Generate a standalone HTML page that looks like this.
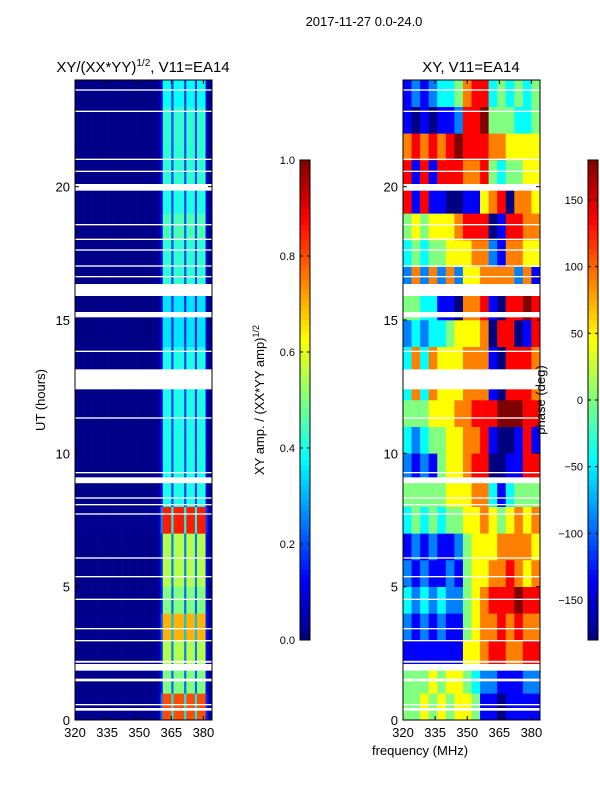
<!DOCTYPE html>
<html><head><meta charset="utf-8"><style>
body{margin:0;background:#fff;font-family:"Liberation Sans",sans-serif;}
svg text{font-family:"Liberation Sans",sans-serif;}
</style></head><body>
<svg id="fig" width="600" height="800" xmlns="http://www.w3.org/2000/svg">
<rect width="600" height="800" fill="#fff"/>
<text x="364" y="26" font-size="13" text-anchor="middle">2017-11-27 0.0-24.0</text>
<text x="143" y="72" font-size="15" text-anchor="middle">XY/(XX*YY)<tspan font-size="10" dy="-6">1/2</tspan><tspan dy="6">, V11=EA14</tspan></text>
<text x="471" y="72" font-size="15" text-anchor="middle">XY, V11=EA14</text>
<g id="amp"></g>
<g id="phs"></g>
<g id="gaps"></g>
<g id="axes"></g>
<text transform="translate(45,400) rotate(-90)" font-size="13" text-anchor="middle">UT (hours)</text>
<text x="420" y="755" font-size="13" text-anchor="middle">frequency (MHz)</text>
<text transform="translate(264,400) rotate(-90)" font-size="13" text-anchor="middle">XY amp. / (XX*YY amp)<tspan font-size="9" dy="-5">1/2</tspan></text>
<text transform="translate(545,400) rotate(-90)" font-size="13" text-anchor="middle">phase (deg)</text>
</svg>
<script>
const ampBand=[0.8,0.5,0.55,0.7,0.5,0.55,0.55,0.85,0.4,0.4,0.4,0.4,0.4,0.4,0.35,0.35,0.42,0.42,0.45,0.4,0.42,0.42,0.42,0.38];
const ampChanProfile=[0.02,0.02,0.02,0.02,0.02,0.02,0.02,0.02,0.02,0.02,0.02,0.02,0.02,0.02,0.02,0.02,0.02,0.02,0.02,0.02,0.02,0.02,0.02,0.02,0.02,0.02,0.02,0.02,0.02,0.02,0.02,0.02,0.02,0.02,0.02,0.02,0.02,0.02,0.04,0.08,0.3,1,1,1,1,0.45,1,1,1,1,1,0.45,1,1,1,1,0.45,1,1,1,1,0.2,0.08,0.05];
const phaseRows=["4454545541101111","4445455432211122","1111111556776677","2121211456676766","3232322456777877","2121121455667656","1212112455566665","3434344556545656","4444455566313444","2121455677001177","3234455667100171","4445556677788877","3636555666107776","3636555666107776","2323345556077017","4433110667107787","2626262556666261","3434455566216655","4545556777017766","7171100115670665","7171777667434455","6767678777665555","1010112778444334","1212334677343434"];
const gapHours=[[0.35,0.45],[0.55,0.6],[1.45,1.55],[1.85,2.1],[2.15,2.22],[2.95,3.0],[3.4,3.45],[4.5,4.55],[5.35,5.4],[6.05,6.1],[7.7,7.75],[8.05,8.1],[8.3,8.35],[8.88,9.1],[9.25,9.3],[11.3,11.35],[12.4,13.15],[13.8,13.85],[15.1,15.3],[15.9,16.35],[16.6,16.65],[17.0,17.05],[17.6,17.65],[18.0,18.05],[18.55,18.6],[19.85,20.1],[20.55,20.6],[21.0,21.05],[22.8,22.85],[23.6,23.65]];
const xTicks=[320,335,350,365,380];
const yTicks=[0,5,10,15,20];
const ampCbTicks=[0.0,0.2,0.4,0.6,0.8,1.0];
const phaseCbTicks=[-150,-100,-50,0,50,100,150];

const NS="http://www.w3.org/2000/svg";
const FMIN=320,FMAX=384,TMIN=0,TMAX=24,Y0=720,Y1=80;
const panels=[{x0:75,x1:212},{x0:403,x1:540}];
function xs(p,f){return p.x0+(f-FMIN)/(FMAX-FMIN)*(p.x1-p.x0);}
function ys(h){return Y0+(h-TMIN)/(TMAX-TMIN)*(Y1-Y0);}
function jet(v){v=Math.max(0,Math.min(1,v));
 const c=x=>Math.round(255*Math.max(0,Math.min(1,1.5-Math.abs(4*v-x))));
 return `rgb(${c(3)},${c(2)},${c(1)})`;}
function el(tag,attrs,parent){const e=document.createElementNS(NS,tag);for(const k in attrs)e.setAttribute(k,attrs[k]);parent.appendChild(e);return e;}
const fig=document.getElementById('fig');
const amp=document.getElementById('amp');
const nc=ampChanProfile.length,df=(FMAX-FMIN)/nc;
ampBand.forEach((b,r)=>{ampChanProfile.forEach((p,c)=>{
 const x=xs(panels[0],FMIN+c*df),x2=xs(panels[0],FMIN+(c+1)*df);
 const y=ys(r+1),y2=ys(r);
 const rc=el('rect',{x:x,y:y,width:x2-x+0.3,height:y2-y+0.3,fill:jet(p*b)},amp);
 
 
});});
const phs=document.getElementById('phs');
phaseRows.forEach((row,r)=>{const n=row.length,w=(FMAX-FMIN)/n;
 for(let c=0;c<n;c++){const deg=-180+(+row[c])*45;
  const x=xs(panels[1],FMIN+c*w),x2=xs(panels[1],FMIN+(c+1)*w);
  const y=ys(r+1),y2=ys(r);
  const rc=el('rect',{x:x,y:y,width:x2-x+0.3,height:y2-y+0.3,fill:jet((deg+180)/360)},phs);
  
  
 }});
const gg=document.getElementById('gaps');
gapHours.forEach(g=>{panels.forEach(p=>{
 const r=el('rect',{x:p.x0,y:ys(g[1]),width:p.x1-p.x0,height:Math.max(1,ys(g[0])-ys(g[1])),fill:'#fff'},gg);
 
 
});});
const ax=document.getElementById('axes');
panels.forEach((p,i)=>{
 const fr=el('rect',{x:p.x0,y:Y1,width:p.x1-p.x0,height:Y0-Y1,fill:'none',stroke:'#000','stroke-width':1},ax);
 
 
 xTicks.forEach(t=>{const x=xs(p,t);
  el('line',{x1:x,y1:Y0,x2:x,y2:Y0-4,stroke:'#000'},ax);
  el('line',{x1:x,y1:Y1,x2:x,y2:Y1+4,stroke:'#000'},ax);
  const tx=el('text',{x:x,y:Y0+17,'font-size':13,'text-anchor':'middle'},ax);tx.textContent=t;
  
  
 });
 yTicks.forEach(t=>{const y=ys(t);
  el('line',{x1:p.x0,y1:y,x2:p.x0+4,y2:y,stroke:'#000'},ax);
  el('line',{x1:p.x1,y1:y,x2:p.x1-4,y2:y,stroke:'#000'},ax);
  const tx=el('text',{x:p.x0-5,y:y+5,'font-size':13,'text-anchor':'end'},ax);tx.textContent=t;
  
  
 });
});
function colorbar(x,vmin,vmax,ticks,name,fmt){
 const top=160,bot=640,w=10;
 const g=el('g',{},fig);
 
 
 for(let i=0;i<96;i++){const y=top+i*(bot-top)/96;
  el('rect',{x:x,y:y,width:w,height:(bot-top)/96+0.5,fill:jet(1-(i+0.5)/96)},g);}
 el('rect',{x:x,y:top,width:w,height:bot-top,fill:'none',stroke:'#000'},g);
 ticks.forEach(t=>{const y=bot-(t-vmin)/(vmax-vmin)*(bot-top);
  el('line',{x1:x,y1:y,x2:x+3,y2:y,stroke:'#000'},g);
  el('line',{x1:x+w,y1:y,x2:x+w-3,y2:y,stroke:'#000'},g);
  const tx=el('text',{x:x-5,y:y+4,'font-size':11,'text-anchor':'end'},g);
  tx.textContent=fmt(t);
  
  
 });
}
colorbar(300,0,1,ampCbTicks,'amp-colorbar',t=>t.toFixed(1));
colorbar(588,-180,180,phaseCbTicks,'phase-colorbar',t=>t<0?'\u2212'+(-t):''+t);
</script>
</body></html>
